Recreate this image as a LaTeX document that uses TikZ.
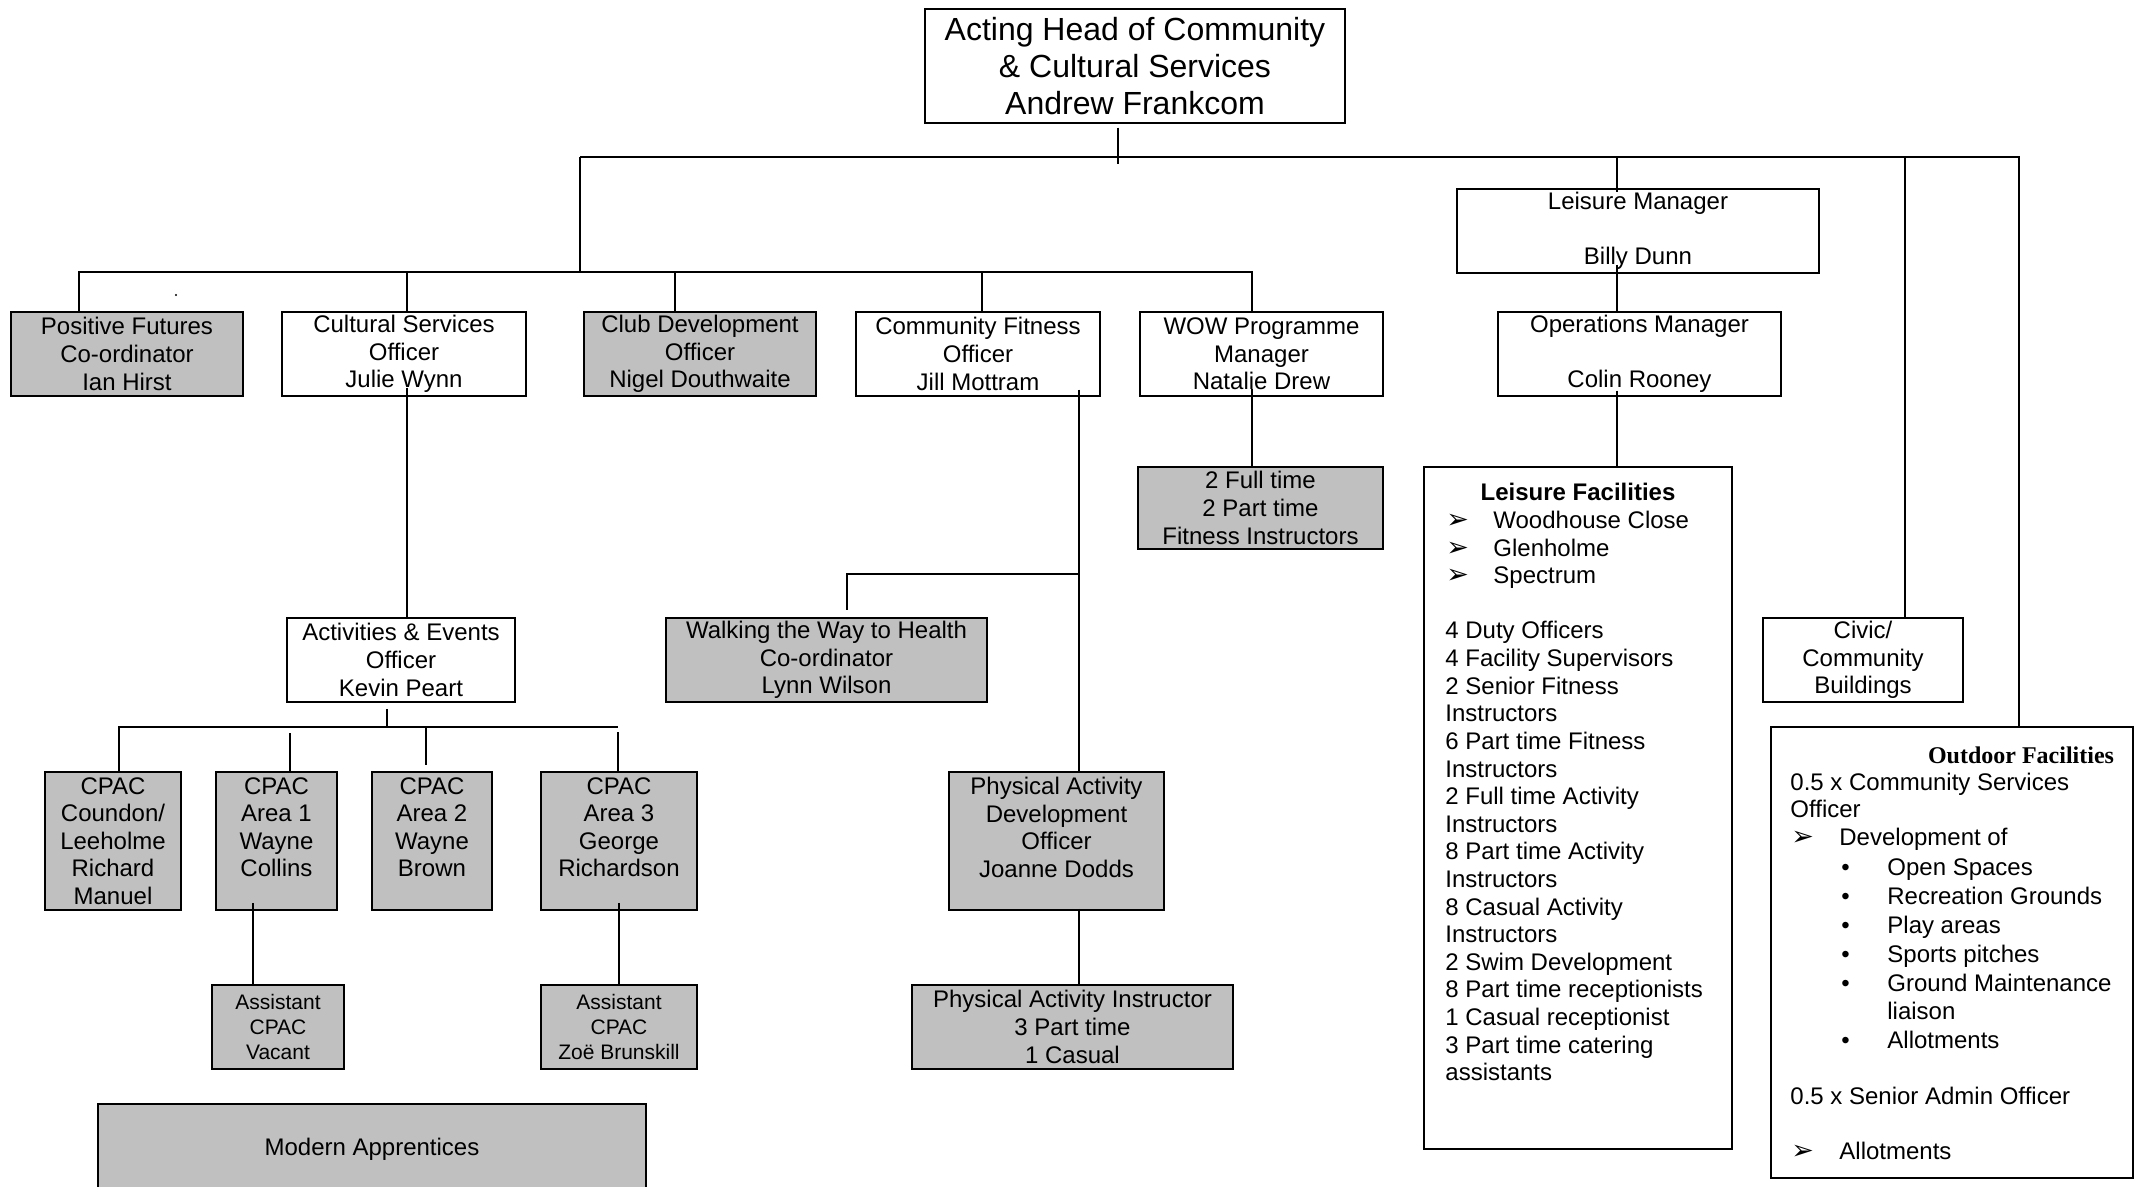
\documentclass[tikz,border=0pt]{standalone}
\usepackage{fontspec}
\setmainfont{Liberation Sans}
\newfontfamily\serifface{Liberation Serif}
\newfontfamily\dingface{DejaVu Sans}
\definecolor{boxgrey}{RGB}{192,192,192}
\tikzset{
  orgbox/.style={draw, line width=0.75pt, inner sep=0pt, align=center,
    font=\fontsize{12}{13.8}\selectfont},
  greybox/.style={orgbox, fill=boxgrey},
  smallbox/.style={greybox, font=\fontsize{10.5}{12.3}\selectfont},
  link/.style={line width=0.55pt},
  listtext/.style={anchor=base west, inner sep=0pt, font=\fontsize{12}{13.8}\selectfont},
  listarrow/.style={anchor=base west, inner sep=0pt, font=\dingface\bfseries\fontsize{13.5}{14}\selectfont},
}
\begin{document}
\begin{tikzpicture}[x=0.5pt,y=-0.5pt]
\fill[white] (0,0) rectangle (2143,1187);
\useasboundingbox (0,0) rectangle (2143,1187);

% ---------- boxes ----------
\node[orgbox, minimum width=210pt, minimum height=57pt, font=\fontsize{16}{18.5}\selectfont]
  (head) at (1135,66) {Acting Head of Community\\\& Cultural Services\\Andrew Frankcom};

\node[greybox, minimum width=116pt, minimum height=42pt] (pf) at (127,354) {Positive Futures\\Co-ordinator\\Ian Hirst};
\node[orgbox, minimum width=122pt, minimum height=42pt] (cso) at (404,354) {Cultural Services\\Officer\\Julie Wynn};
\node[greybox, minimum width=116pt, minimum height=42pt] (cdo) at (700,354) {Club Development\\Officer\\Nigel Douthwaite};
\node[orgbox, minimum width=122pt, minimum height=42pt] (cfo) at (978,354) {Community Fitness\\Officer\\Jill Mottram};
\node[orgbox, minimum width=121.5pt, minimum height=42pt] (wow) at (1261.5,354) {WOW Programme\\Manager\\Natalie Drew};

\node[orgbox, minimum width=181pt, minimum height=42pt] (lm) at (1638,231) {Leisure Manager\\~\\Billy Dunn};
\node[orgbox, minimum width=141.5pt, minimum height=42pt] (om) at (1639.5,354) {Operations Manager\\~\\Colin Rooney};

\node[greybox, minimum width=122.5pt, minimum height=41pt] (wft) at (1260.5,508) {2 Full time\\2 Part time\\Fitness Instructors};
\node[orgbox, minimum width=154pt, minimum height=341pt] (lf) at (1578,808) {};
\node[orgbox, minimum width=100pt, minimum height=42pt] (civic) at (1863,660) {Civic/\\Community\\Buildings};
\node[orgbox, minimum width=181pt, minimum height=225.5pt] (out) at (1952,952.5) {};

\node[greybox, minimum width=160.5pt, minimum height=42pt] (walk) at (826.5,660) {Walking the Way to Health\\Co-ordinator\\Lynn Wilson};
\node[orgbox, minimum width=114pt, minimum height=42pt] (aeo) at (401,660) {Activities \& Events\\Officer\\Kevin Peart};
\node[greybox, minimum width=107.5pt, minimum height=69pt] (pad) at (1056.5,841) {Physical Activity\\Development\\Officer\\Joanne Dodds\\~};
\node[greybox, minimum width=160.5pt, minimum height=42pt] (pai) at (1072.5,1027) {Physical Activity Instructor\\3 Part time\\1 Casual};

\node[greybox, minimum width=68pt, minimum height=69pt] (c0) at (113,841) {CPAC\\Coundon/\\Leeholme\\Richard\\Manuel};
\node[greybox, minimum width=60.5pt, minimum height=69pt] (c1) at (276.5,841) {CPAC\\Area 1\\Wayne\\Collins\\~};
\node[greybox, minimum width=60pt, minimum height=69pt] (c2) at (432,841) {CPAC\\Area 2\\Wayne\\Brown\\~};
\node[greybox, minimum width=78pt, minimum height=69pt] (c3) at (619,841) {CPAC\\Area 3\\George\\Richardson\\~};
\node[smallbox, minimum width=66pt, minimum height=42pt] (av) at (278,1027) {Assistant\\CPAC\\Vacant};
\node[smallbox, minimum width=78pt, minimum height=42pt] (az) at (619,1027) {Assistant\\CPAC\\Zoë Brunskill};
\node[greybox, minimum width=274pt, minimum height=45.5pt] (ma) at (372,1149.5) {Modern Apprentices};

% ---------- junction points ----------
\coordinate (hub) at (1118,157);
\coordinate (barAl) at (580,157);
\coordinate (barAr) at (2019,157);
\coordinate (lmx) at (1617,157);
\coordinate (civx) at (1905,157);
\coordinate (barBl) at (79,272);
\coordinate (barBm) at (580,272);
\coordinate (barBr) at (1252,272);
\coordinate (d2) at (407,272);
\coordinate (d3) at (675,272);
\coordinate (d4) at (982,272);
\coordinate (fx) at (1079,574);
\coordinate (wx) at (847,574);
\coordinate (cbar) at (387,727);
\coordinate (cL) at (119,727);
\coordinate (cR) at (618,727);
\coordinate (c1x) at (290,727);
\coordinate (c2x) at (426,727);
\coordinate (avx) at (253,950);

% ---------- connectors ----------
\draw[link] ([yshift=-2pt]head.south -| hub) -- ([yshift=-3.5pt]hub);
\draw[link] (barAl) -- (barAr) -- (out.north -| barAr);
\draw[link] (barAl) -- (barBm);
\draw[link] (lmx) -- ([yshift=-2pt]lm.north -| lmx);
\draw[link] (civx) -- (civic.north -| civx);
\draw[link] ([yshift=4.5pt]lm.south -| lmx) -- (om.north -| lmx);
\draw[link] ([yshift=3pt]om.south -| lmx) -- (lf.north -| lmx);

\draw[link] (pf.north -| barBl) -- (barBl) -- (barBr) -- (wow.north -| barBr);
\draw[link] (d2) -- (cso.north -| d2);
\draw[link] (d3) -- (cdo.north -| d3);
\draw[link] (d4) -- (cfo.north -| d4);
\draw[link] ([yshift=4pt]wow.south -| barBr) -- (wft.north -| barBr);

\draw[link] ([yshift=4.5pt]cso.south -| d2) -- (aeo.north -| d2);
\draw[link] ([yshift=3.5pt]cfo.south -| fx) -- (pad.north -| fx);
\draw[link] (fx) -- (wx) -- ([yshift=3.5pt]walk.north -| wx);
\draw[link] ([yshift=1pt]pad.south -| fx) -- (pai.north -| fx);

\draw[link] ([yshift=-3pt]aeo.south -| cbar) -- (cbar);
\draw[link] (c0.north -| cL) -- (cL) -- (cR);
\draw[link] ([yshift=-3pt]c1x) -- (c1.north -| c1x);
\draw[link] (c2x) -- ([yshift=3pt]c2.north -| c2x);
\draw[link] ([yshift=-2.5pt]cR) -- (c3.north -| cR);
\draw[link] ([yshift=4pt]c1.south -| avx) -- (av.north -| avx);
\draw[link] ([yshift=4pt]c3.south) -- (az.north);

% stray mark
\fill (176,295) circle[radius=1.2];

% ---------- Leisure Facilities list ----------
\node[anchor=base, inner sep=0pt, font=\bfseries\fontsize{12}{13.8}\selectfont] (lft) at (1578,501) {Leisure Facilities};
\foreach \t [count=\i] in {Woodhouse Close, Glenholme, Spectrum} {
  \node[listarrow] (lfa\i) at (1446,{501+27.6*\i}) {➢};
  \node[listtext] (lfb\i) at (1493,{501+27.6*\i}) {\t};
}
\foreach \t [count=\i from 5] in {4 Duty Officers, 4 Facility Supervisors, 2 Senior Fitness,
    Instructors, 6 Part time Fitness, Instructors, 2 Full time Activity, Instructors,
    8 Part time Activity, Instructors, 8 Casual Activity, Instructors, 2 Swim Development,
    8 Part time receptionists, 1 Casual receptionist, 3 Part time catering, assistants} {
  \node[listtext] (lfs\i) at (1445,{501+27.6*\i}) {\t};
}

% ---------- Outdoor Facilities list ----------
\node[anchor=base, inner sep=0pt, font=\serifface\bfseries\fontsize{12}{13.8}\selectfont] (odt) at (2021,763) {Outdoor Facilities};
\node[listtext] (od1) at (1790,790) {0.5 x Community Services};
\node[listtext] (od2) at (1790,817) {Officer};
\node[listarrow] (oda1) at (1791,845) {➢};
\node[listtext] (od3) at (1839,845) {Development of};
\foreach \t/\yy in {Open Spaces/875, Recreation Grounds/904, Play areas/933, Sports pitches/962,
    Ground Maintenance/991, Allotments/1048} {
  \node[listtext] (odb\yy) at (1841,\yy) {•};
  \node[listtext] (odt\yy) at (1887,\yy) {\t};
}
\node[listtext] (od4) at (1887,1019) {liaison};
\node[listtext] (od5) at (1790,1104) {0.5 x Senior Admin Officer};
\node[listarrow] (oda2) at (1791,1159) {➢};
\node[listtext] (od6) at (1839,1159) {Allotments};
\end{tikzpicture}
\end{document}
